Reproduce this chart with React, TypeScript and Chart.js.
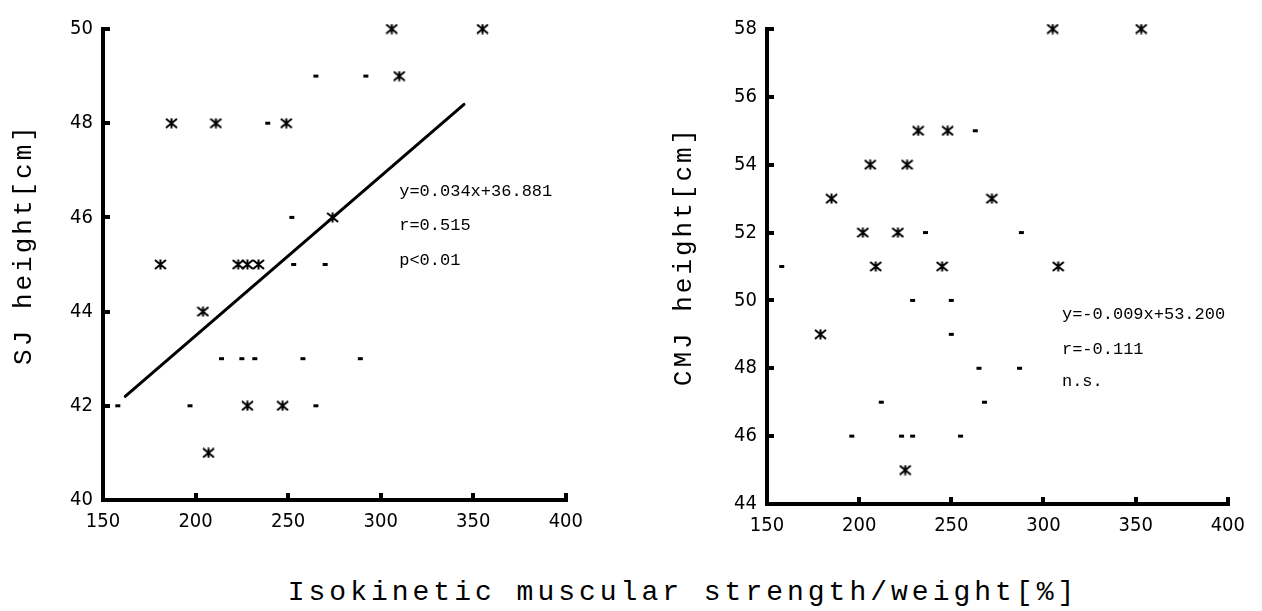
import React, { useEffect, useRef } from "react";
import { Chart, registerables } from "chart.js";

Chart.register(...registerables);

// ---------- Data ----------
// Left panel: SJ height vs isokinetic strength/weight
const SJ_STAR_X = [187, 211, 249, 274, 306, 355, 310, 181, 223, 228, 234, 204, 228, 247, 207];
const SJ_STAR_Y = [48, 48, 48, 46, 50, 50, 49, 45, 45, 45, 45, 44, 42, 42, 41];
const SJ_DASH_X = [265, 239, 252, 292, 253, 270, 214, 225, 232, 258, 289, 158, 197, 265];
const SJ_DASH_Y = [49, 48, 46, 49, 45, 45, 43, 43, 43, 43, 43, 42, 42, 42];
const SJ_FIT_X = [162, 345];
const SJ_FIT_Y = [42.2, 48.4];
const SJ_STATS = ["y=0.034x+36.881", "r=0.515", "p<0.01"];
const SJ_STATS_X = 310;
const SJ_STATS_Y = [46.55, 45.82, 45.08];

// Right panel: CMJ height vs isokinetic strength/weight
const CMJ_STAR_X = [232, 248, 206, 226, 185, 202, 221, 305, 353, 272, 209, 245, 179, 225, 308];
const CMJ_STAR_Y = [55, 55, 54, 54, 53, 52, 52, 58, 58, 53, 51, 51, 49, 45, 51];
const CMJ_DASH_X = [236, 263, 288, 158, 229, 250, 250, 212, 196, 223, 229, 255, 265, 287, 268];
const CMJ_DASH_Y = [52, 55, 52, 51, 50, 50, 49, 47, 46, 46, 46, 46, 48, 48, 47];
const CMJ_STATS = ["y=-0.009x+53.200", "r=-0.111", "n.s."];
const CMJ_STATS_X = 310;
const CMJ_STATS_Y = [49.6, 48.55, 47.62];

// Axes
const X_MIN = 150;
const X_MAX = 400;
const X_STEP = 50;
const SJ_Y_MIN = 40;
const SJ_Y_MAX = 50;
const CMJ_Y_MIN = 44;
const CMJ_Y_MAX = 58;
const Y_STEP = 2;

const SJ_TITLE = "SJ height[cm]";
const CMJ_TITLE = "CMJ height[cm]";
const X_TITLE = "Isokinetic muscular strength/weight[%]";

const TICK_FONT = "'Liberation Sans Narrow', 'DejaVu Sans Condensed', 'Liberation Sans', sans-serif";
const MONO_FONT = "'Liberation Mono', 'DejaVu Sans Mono', monospace";

const zip = (xs: number[], ys: number[]) => xs.map((x, i) => ({ x, y: ys[i] }));

function makeStar(): HTMLCanvasElement {
  const c = document.createElement("canvas");
  c.width = 13;
  c.height = 11;
  const g = c.getContext("2d")!;
  g.strokeStyle = "#000";
  g.lineWidth = 2;
  g.lineCap = "butt";
  g.beginPath();
  g.moveTo(6.5, 0.5);
  g.lineTo(6.5, 10.5);
  g.moveTo(1, 1);
  g.lineTo(12, 10);
  g.moveTo(12, 1);
  g.lineTo(1, 10);
  g.stroke();
  return c;
}

interface PanelCfg {
  starX: number[];
  starY: number[];
  dashX: number[];
  dashY: number[];
  fitX?: number[];
  fitY?: number[];
  stats: string[];
  statsX: number;
  statsY: number[];
  yMin: number;
  yMax: number;
  title: string;
  titleX: number;
  titleY: number;
  yAxisWidth: number;
  xAxisHeight: number;
  padTop: number;
  padRight: number;
}

function buildChart(canvas: HTMLCanvasElement, p: PanelCfg): Chart {
  const star = makeStar();
  const datasets: any[] = [
    {
      label: "star",
      data: zip(p.starX, p.starY),
      pointStyle: star,
      pointRadius: 6,
      showLine: false,
      clip: false,
    },
    {
      label: "dash",
      data: zip(p.dashX, p.dashY),
      pointStyle: "line",
      pointRadius: 2.5,
      pointBorderWidth: 3,
      borderColor: "#000",
      backgroundColor: "#000",
      showLine: false,
      clip: false,
    },
  ];
  if (p.fitX && p.fitY) {
    datasets.push({
      label: "fit",
      data: zip(p.fitX, p.fitY),
      showLine: true,
      borderColor: "#000",
      borderWidth: 3,
      pointRadius: 0,
      borderCapStyle: "round",
      clip: false,
    });
  }

  const extraText = {
    id: "extraText",
    afterDraw(chart: any) {
      const ctx: CanvasRenderingContext2D = chart.ctx;
      const xs = chart.scales.x;
      const ys = chart.scales.y;
      ctx.save();
      ctx.fillStyle = "#000";
      ctx.font = `26px ${MONO_FONT}`;
      (ctx as any).letterSpacing = "3px";
      ctx.textAlign = "center";
      ctx.textBaseline = "middle";
      ctx.translate(p.titleX, p.titleY);
      ctx.rotate(-Math.PI / 2);
      ctx.fillText(p.title, 0, 0);
      ctx.restore();

      ctx.save();
      ctx.fillStyle = "#000";
      ctx.font = `17px ${MONO_FONT}`;
      ctx.textAlign = "left";
      ctx.textBaseline = "middle";
      p.stats.forEach((t, i) => {
        ctx.fillText(t, xs.getPixelForValue(p.statsX), ys.getPixelForValue(p.statsY[i]));
      });
      ctx.restore();
    },
  };

  return new Chart(canvas, {
    type: "scatter",
    data: { datasets },
    plugins: [extraText],
    options: {
      animation: false,
      responsive: false,
      devicePixelRatio: 1,
      layout: {
        autoPadding: false,
        padding: { top: p.padTop, right: p.padRight, bottom: 0, left: 0 },
      },
      plugins: { legend: { display: false }, tooltip: { enabled: false } },
      elements: {
        point: { borderColor: "#000", backgroundColor: "#000" },
      },
      scales: {
        x: {
          type: "linear",
          min: X_MIN,
          max: X_MAX,
          afterFit: (s: any) => {
            s.height = p.xAxisHeight;
          },
          ticks: {
            stepSize: X_STEP,
            autoSkip: false,
            maxRotation: 0,
            padding: 17,
            color: "#000",
            font: { family: TICK_FONT, size: 20 },
          },
          grid: {
            display: true,
            drawOnChartArea: false,
            drawTicks: true,
            tickLength: -7,
            tickWidth: 4,
            tickColor: "#000",
            lineWidth: 4,
            color: "#000",
          },
          border: { display: true, width: 4, color: "#000" },
        },
        y: {
          type: "linear",
          min: p.yMin,
          max: p.yMax,
          afterFit: (s: any) => {
            s.width = p.yAxisWidth;
          },
          ticks: {
            stepSize: Y_STEP,
            autoSkip: false,
            padding: 17,
            color: "#000",
            font: { family: TICK_FONT, size: 20 },
          },
          grid: {
            display: true,
            drawOnChartArea: false,
            drawTicks: true,
            tickLength: -7,
            tickWidth: 4,
            tickColor: "#000",
            lineWidth: 4,
            color: "#000",
          },
          border: { display: true, width: 4, color: "#000" },
        },
      },
    } as any,
  });
}

export default function App() {
  const leftRef = useRef<HTMLCanvasElement | null>(null);
  const rightRef = useRef<HTMLCanvasElement | null>(null);

  useEffect(() => {
    const left = buildChart(leftRef.current!, {
      starX: SJ_STAR_X,
      starY: SJ_STAR_Y,
      dashX: SJ_DASH_X,
      dashY: SJ_DASH_Y,
      fitX: SJ_FIT_X,
      fitY: SJ_FIT_Y,
      stats: SJ_STATS,
      statsX: SJ_STATS_X,
      statsY: SJ_STATS_Y,
      yMin: SJ_Y_MIN,
      yMax: SJ_Y_MAX,
      title: SJ_TITLE,
      titleX: 24,
      titleY: 244,
      yAxisWidth: 103,
      xAxisHeight: 40,
      padTop: 22,
      padRight: 22,
    });
    const right = buildChart(rightRef.current!, {
      starX: CMJ_STAR_X,
      starY: CMJ_STAR_Y,
      dashX: CMJ_DASH_X,
      dashY: CMJ_DASH_Y,
      stats: CMJ_STATS,
      statsX: CMJ_STATS_X,
      statsY: CMJ_STATS_Y,
      yMin: CMJ_Y_MIN,
      yMax: CMJ_Y_MAX,
      title: CMJ_TITLE,
      titleX: 64,
      titleY: 256,
      yAxisWidth: 147,
      xAxisHeight: 36,
      padTop: 23,
      padRight: 20,
    });
    return () => {
      left.destroy();
      right.destroy();
    };
  }, []);

  return (
    <div
      style={{
        position: "fixed",
        left: 0,
        top: 0,
        width: 1262,
        height: 611,
        background: "#fff",
        overflow: "hidden",
      }}
    >
      <canvas
        ref={leftRef}
        width={600}
        height={540}
        style={{ position: "absolute", left: 0, top: 0, display: "block" }}
      />
      <canvas
        ref={rightRef}
        width={642}
        height={540}
        style={{ position: "absolute", left: 620, top: 0, display: "block" }}
      />
      <div
        style={{
          position: "absolute",
          left: 683,
          top: 576,
          transform: "translateX(-50%)",
          whiteSpace: "nowrap",
          fontFamily: MONO_FONT,
          fontSize: 28,
          letterSpacing: "4px",
          color: "#000",
          lineHeight: "34px",
        }}
      >
        {X_TITLE}
      </div>
    </div>
  );
}
